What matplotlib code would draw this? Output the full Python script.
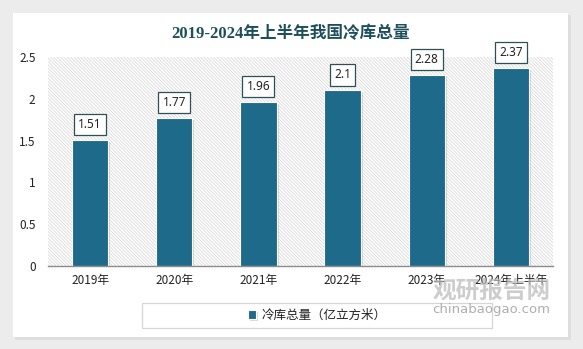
#!/usr/bin/env python3
# 2019-2024年上半年我国冷库总量 - bar chart recreation

import matplotlib
matplotlib.use("Agg")
import matplotlib.pyplot as plt
from matplotlib.patches import Rectangle
import matplotlib.patheffects as pe

years = ["2019年", "2020年", "2021年", "2022年", "2023年", "2024年上半年"]
volumes = [1.51, 1.77, 1.96, 2.1, 2.28, 2.37]
value_labels = ["1.51", "1.77", "1.96", "2.1", "2.28", "2.37"]
y_ticks = [0, 0.5, 1, 1.5, 2, 2.5]
y_tick_labels = ["0", "0.5", "1", "1.5", "2", "2.5"]
series_name = "冷库总量（亿立方米）"
title_text = "2019-2024年上半年我国冷库总量"

W, H, DPI = 583, 349, 100
BAR_COLOR = "#1e6a8a"
TITLE_COLOR = "#1d4f5c"
CJK = ["Noto Sans CJK SC", "DejaVu Sans"]

plt.rcParams["font.family"] = CJK
plt.rcParams["hatch.color"] = "#d6d6d6"
plt.rcParams["hatch.linewidth"] = 0.55

fig = plt.figure(figsize=(W / DPI, H / DPI), dpi=DPI)
fig.patch.set_facecolor("#ececec")

# white card with soft shadow (drawn below the axes)
fig.patches.append(Rectangle((15 / W, 1 - 340 / H), 556 / W, 325 / H, transform=fig.transFigure,
                             facecolor="#dedede", edgecolor="none", zorder=-3))
fig.patches.append(Rectangle((13 / W, 1 - 337 / H), 555 / W, 324 / H, transform=fig.transFigure,
                             facecolor="white", edgecolor="none", zorder=-2))

ax = fig.add_axes([48 / W, 1 - 266 / H, 505 / W, 209 / H])
ax.patch.set_alpha(0)

# hatched plot background
ax.add_patch(Rectangle((0, 0), 1, 1, transform=ax.transAxes, facecolor="white",
                       edgecolor="#d6d6d6", linewidth=0, hatch="\\" * 10, zorder=0))

x = list(range(len(years)))
bars = ax.bar(x, volumes, width=0.43, color=BAR_COLOR, edgecolor="white", linewidth=0.8, zorder=2)
for b in bars:
    b.set_path_effects([pe.SimplePatchShadow(offset=(1.5, -1.5), shadow_rgbFace="#9a9a9a", alpha=0.35),
                        pe.Normal()])

for xi, v, lab in zip(x, volumes, value_labels):
    ax.annotate(lab, (xi, v), xytext=(0, 6.5), textcoords="offset points",
                ha="center", va="bottom", fontsize=8.5, family=["Noto Sans", "DejaVu Sans"],
                color="#222222", zorder=4,
                bbox=dict(boxstyle="square,pad=0.35", facecolor="white", edgecolor="#2f4f56", linewidth=0.9))

ax.set_xlim(-0.5, len(years) - 0.5)
ax.set_ylim(0, 2.5)
ax.set_yticks(y_ticks)
ax.set_yticklabels(y_tick_labels)
ax.set_xticks(x)
ax.set_xticklabels(years)
ax.tick_params(axis="both", length=0, labelsize=8.5, colors="#222222")
ax.tick_params(axis="y", pad=9)
ax.tick_params(axis="x", pad=6)
for s in ["top", "right", "left"]:
    ax.spines[s].set_visible(False)
ax.spines["bottom"].set_color("#8c8c8c")
ax.spines["bottom"].set_linewidth(1.0)
ax.spines["bottom"].set_zorder(3)

fig.text(290 / W, 1 - 34 / H, title_text, ha="center", va="center", fontsize=12,
         fontweight="bold", color=TITLE_COLOR, family=["Liberation Serif", "Noto Sans CJK SC"])

# watermark
fig.text(492 / W, 1 - 291 / H, "观研报告网", ha="center", va="center", fontsize=17,
         fontweight="bold", color="#bdbdbd", alpha=0.75, zorder=5)
fig.text(491 / W, 1 - 309 / H, "chinabaogao.com", ha="center", va="center", fontsize=9.5,
         color="#a0a0a0", alpha=0.85, family=["DejaVu Sans"], zorder=5)

# legend box
fig.patches.append(Rectangle((142 / W, 1 - 328 / H), 350 / W, 25 / H, transform=fig.transFigure,
                             facecolor="none", edgecolor="#d6d6d6", linewidth=0.9, zorder=3))
ax.legend([bars[0]], [series_name], loc="center", bbox_to_anchor=(317 / W, 1 - 315.5 / H),
          bbox_transform=fig.transFigure, frameon=False, fontsize=9, handlelength=0.7,
          handleheight=0.7, handletextpad=0.4, labelcolor="#222222")

fig.savefig("out.png", dpi=DPI, facecolor=fig.get_facecolor())
